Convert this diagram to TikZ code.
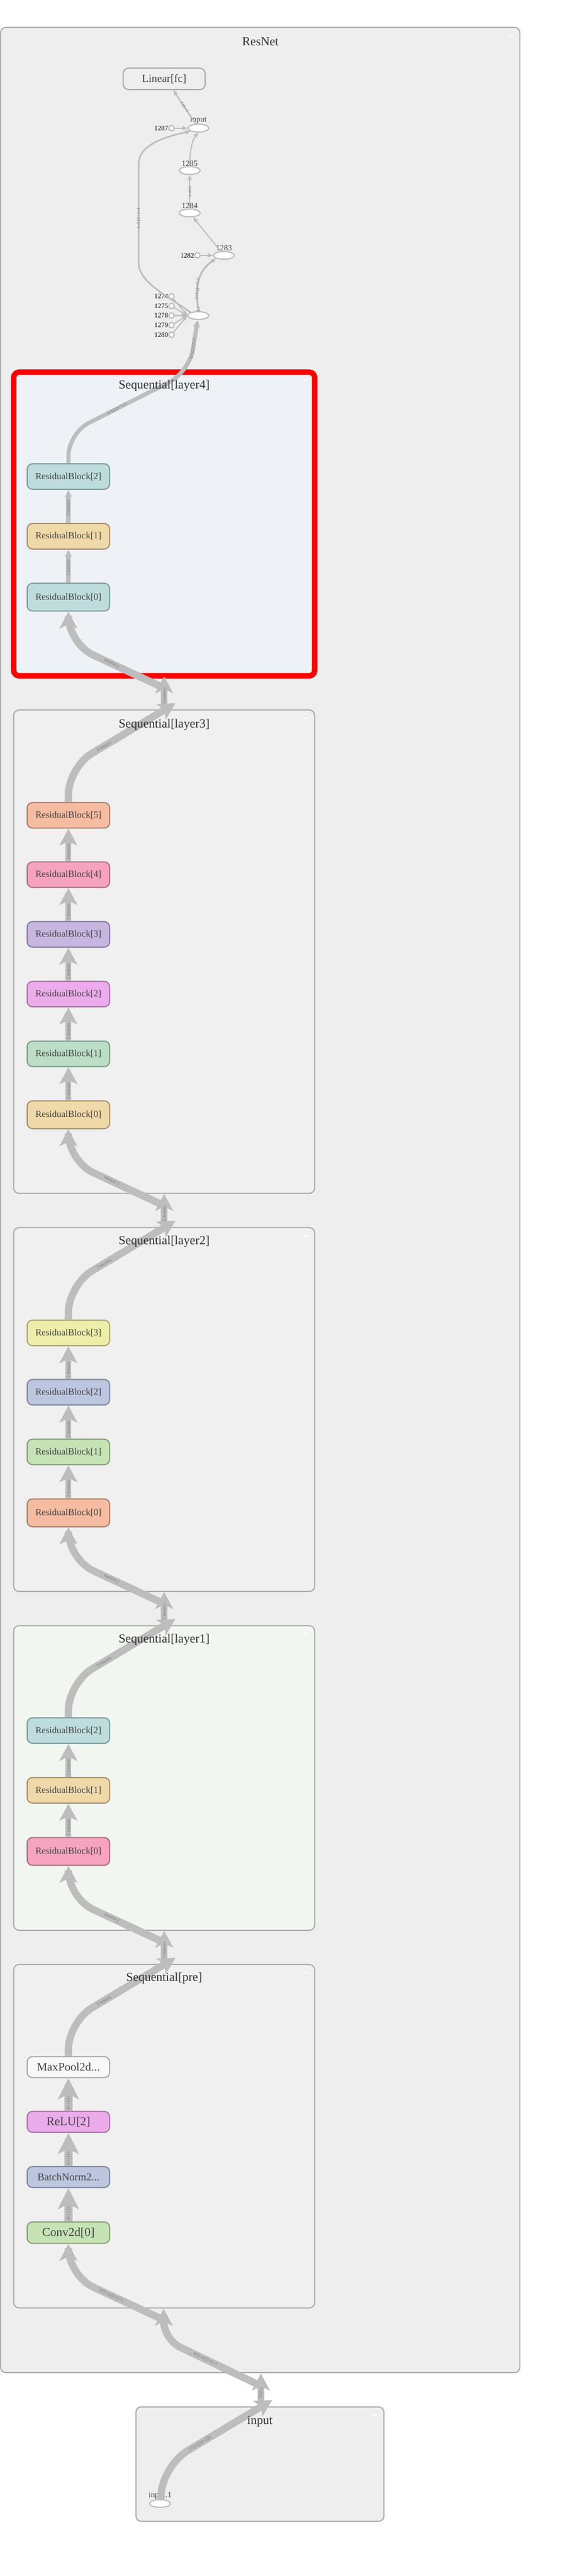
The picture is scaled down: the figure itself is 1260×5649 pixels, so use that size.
\documentclass[tikz,border=0pt]{standalone}
\usepackage{fontspec}
\setmainfont{Liberation Serif}
\usepackage{tikz}
\usetikzlibrary{arrows.meta,positioning,shapes.geometric}
\usepackage{xcolor}

\definecolor{bgfill}{HTML}{EEEEEE}
\definecolor{clfill}{HTML}{F0F0F0}
\definecolor{clline}{HTML}{AAAAAA}
\definecolor{l4fill}{HTML}{EEF2F6}
\definecolor{l1fill}{HTML}{F2F6F0}
\definecolor{edgec}{HTML}{BDBDBD}
\definecolor{opline}{HTML}{BBBBBB}
\definecolor{txt}{HTML}{444444}
\definecolor{titc}{HTML}{333333}
\definecolor{labc}{HTML}{777777}
\definecolor{tealF}{HTML}{BEDCDC}\definecolor{tealD}{HTML}{7F9B9B}
\definecolor{tanF}{HTML}{F0D9A9}\definecolor{tanD}{HTML}{A8916E}
\definecolor{salmonF}{HTML}{F5BCA1}\definecolor{salmonD}{HTML}{A87F6E}
\definecolor{pinkF}{HTML}{F5A3BF}\definecolor{pinkD}{HTML}{A87083}
\definecolor{lavF}{HTML}{C6B6E0}\definecolor{lavD}{HTML}{877DA0}
\definecolor{orchidF}{HTML}{ECABEB}\definecolor{orchidD}{HTML}{A878A8}
\definecolor{mintF}{HTML}{BCDEC6}\definecolor{mintD}{HTML}{809A88}
\definecolor{yellowF}{HTML}{EEEEAB}\definecolor{yellowD}{HTML}{A8A872}
\definecolor{slateF}{HTML}{BCC6DE}\definecolor{slateD}{HTML}{808A9C}
\definecolor{greenF}{HTML}{C6E3B6}\definecolor{greenD}{HTML}{889E78}
\definecolor{plainF}{HTML}{F8F8F8}\definecolor{plainD}{HTML}{AAAAAA}

\begin{document}
\begin{tikzpicture}[x=1pt,y=-1pt,
  cluster/.style={draw=clline, fill=clfill, line width=2.5pt, rounded corners=12pt},
  cltitle/.style={text=titc, inner sep=0pt, font=\fontsize{27}{30}\selectfont},
  block/.style={draw, rounded corners=12pt, line width=2.5pt, minimum width=181pt, minimum height=56pt, inner sep=0pt, text=txt, font=\fontsize{20.5}{24}\selectfont},
  tall/.style={minimum height=61pt},
  prebox/.style={block, minimum height=46pt},
  rbTeal/.style={block, fill=tealF, draw=tealD},
  rbTan/.style={block, fill=tanF, draw=tanD},
  rbSalmon/.style={block, fill=salmonF, draw=salmonD},
  rbPink/.style={block, fill=pinkF, draw=pinkD},
  rbLav/.style={block, fill=lavF, draw=lavD},
  rbOrchid/.style={block, fill=orchidF, draw=orchidD},
  rbMint/.style={block, fill=mintF, draw=mintD},
  rbYellow/.style={block, fill=yellowF, draw=yellowD},
  rbSlate/.style={block, fill=slateF, draw=slateD},
  rbGreen/.style={block, fill=greenF, draw=greenD},
  opnode/.style={ellipse, draw=opline, fill=white, line width=2.5pt, minimum width=46pt, minimum height=17pt, inner sep=0pt, label distance=6pt},
  cnode/.style={circle, draw=opline, fill=white, line width=2.5pt, minimum size=12pt, inner sep=0pt, label distance=5pt},
  oplab/.style={text=txt, inner sep=0pt, font=\fontsize{17.5}{19}\selectfont},
  numlab/.style={text=black, inner sep=0pt, font=\fontsize{15}{16}\selectfont},
  wire/.style={draw=edgec, line width=#1},
  elab/.style={text=labc, sloped, allow upside down, inner sep=0pt, font=\fontsize{10}{11}\selectfont},
  bigtip/.style={-{Stealth[length=37pt,width=39pt,inset=9pt]}},
  pretip/.style={-{Stealth[length=46pt,width=46pt,inset=11pt]}},
  smalltip/.style={-{Stealth[length=16pt,width=15pt,inset=4pt]}},
  tinytip/.style={-{Stealth[length=12pt,width=10pt,inset=3pt]}},
  dashbar/.style={draw=white, line width=3pt}
]
\useasboundingbox (0,0) rectangle (1260,5649);

% clusters
\draw[cluster, fill=bgfill] (1.25,60) rectangle (1140,5203);
\draw[dashbar] (1117,78) -- (1127,78);
\draw[cluster, draw=red, line width=12pt, fill=l4fill] (30,816) rectangle (690,1482);
\draw[cluster] (30,1557) rectangle (690,2617);
\draw[cluster] (30,2692) rectangle (690,3490);
\draw[cluster, fill=l1fill] (30,3565) rectangle (690,4233);
\draw[cluster] (30,4308) rectangle (690,5061);
\draw[cluster, fill=bgfill] (298,5278) rectangle (842,5529);
\foreach \t in {833,1575,2710,3583,4326}
  \draw[dashbar] (666,\t) -- (676,\t);
\draw[dashbar] (818,5296) -- (828,5296);

% top of ResNet
\node[block, fill=bgfill, draw=clline, minimum width=180pt, minimum height=47pt, font=\fontsize{24}{28}\selectfont] (fc) at (360,173) {Linear[fc]};
\node[opnode, label={[oplab]above:input}] (inp) at (435,281) {};
\node[opnode, label={[oplab]above:1285}] (n1285) at (416,374) {};
\node[opnode, label={[oplab]above:1284}] (n1284) at (416,467) {};
\node[opnode, label={[oplab]above:1283}] (n1283) at (491,560) {};
\node[opnode, label={[oplab]above:x}] (opx) at (435,692) {};
\node[cnode, label={[numlab]left:1287}] (c1287) at (376,281) {};
\node[cnode, label={[numlab]left:1282}] (c1282) at (433,560) {};
\node[cnode, label={[numlab]left:1274}] (c1274) at (376,650) {};
\node[cnode, label={[numlab]left:1275}] (c1275) at (376,671) {};
\node[cnode, label={[numlab]left:1278}] (c1278) at (376,692) {};
\node[cnode, label={[numlab]left:1279}] (c1279) at (376,713) {};
\node[cnode, label={[numlab]left:1280}] (c1280) at (376,734) {};

% layer4
\node[rbTeal] (l4b2) at (150,1045) {ResidualBlock[2]};
\node[rbTan] (l4b1) at (150,1176) {ResidualBlock[1]};
\node[rbTeal, tall] (l4b0) at (150,1309.5) {ResidualBlock[0]};
% layer3
\node[rbSalmon] (l3b5) at (150,1788) {ResidualBlock[5]};
\node[rbPink] (l3b4) at (150,1918) {ResidualBlock[4]};
\node[rbLav] (l3b3) at (150,2049) {ResidualBlock[3]};
\node[rbOrchid] (l3b2) at (150,2180) {ResidualBlock[2]};
\node[rbMint] (l3b1) at (150,2311) {ResidualBlock[1]};
\node[rbTan, tall] (l3b0) at (150,2444.5) {ResidualBlock[0]};
% layer2
\node[rbYellow] (l2b3) at (150,2923) {ResidualBlock[3]};
\node[rbSlate] (l2b2) at (150,3053) {ResidualBlock[2]};
\node[rbGreen] (l2b1) at (150,3184) {ResidualBlock[1]};
\node[rbSalmon, tall] (l2b0) at (150,3317.5) {ResidualBlock[0]};
% layer1
\node[rbTeal] (l1b2) at (150,3795) {ResidualBlock[2]};
\node[rbTan] (l1b1) at (150,3926) {ResidualBlock[1]};
\node[rbPink, tall] (l1b0) at (150,4060) {ResidualBlock[0]};
% pre
\node[prebox, fill=plainF, draw=plainD, font=\fontsize{25.5}{28}\selectfont] (mpool) at (150,4533) {MaxPool2d...};
\node[prebox, fill=orchidF, draw=orchidD, font=\fontsize{26.5}{28}\selectfont] (relu) at (150,4653) {ReLU[2]};
\node[prebox, fill=slateF, draw=slateD, font=\fontsize{23}{26}\selectfont] (bnorm) at (150,4774) {BatchNorm2...};
\node[prebox, fill=greenF, draw=greenD, minimum height=47pt, font=\fontsize{26.5}{28}\selectfont] (conv) at (150,4896) {Conv2d[0]};
% input
\node[opnode, label={[oplab, font=\fontsize{18}{20}\selectfont]above:input.1}] (in1) at (351,5490) {};

% top edges
\draw[wire=3pt, tinytip] (inp) -- node[elab]{1×512} ([xshift=20pt]fc.south);
\draw[wire=2.5pt, tinytip] (c1287) -- (inp);
\draw[wire=2.5pt, tinytip] (n1285.north) .. controls (416,330) and (422,305) .. (inp.south);
\draw[wire=2.5pt, tinytip] (n1284) -- node[elab]{scalar} (n1285);
\draw[wire=2.5pt, tinytip] (n1283) -- (n1284);
\draw[wire=2.5pt, tinytip] (c1282) -- (n1283);
\draw[wire=4pt, tinytip] (opx.north) .. controls (428,630) and (432,595) .. node[elab, pos=0.35]{1×512×7×7} (n1283.south west);
\draw[wire=3.5pt, tinytip] (opx.north west) .. controls (370,650) and (304,620) .. (304,576)
  -- node[elab, pos=0.45]{1×512×1×1} (304,360) .. controls (304,318) and (360,300) .. (inp.south west);
\foreach \c in {c1274,c1275,c1278,c1279,c1280}
  \draw[wire=2.5pt, tinytip] (\c) -- (opx.west);
\draw[wire=9pt, smalltip] (l4b2) [rounded corners=50pt] -- (150,950)
  -- node[elab, pos=0.4]{1×512×7×7} (415,816) [sharp corners] -- node[elab, pos=0.45]{1×512×7×7} (opx);

% edges inside the layers
\foreach \a/\b in {l4b0/l4b1,l4b1/l4b2}
  \draw[wire=10pt, smalltip] (\a) -- node[elab, pos=0.45]{2 tensors} (\b);
\foreach \a/\b in {l3b0/l3b1,l3b1/l3b2,l3b2/l3b3,l3b3/l3b4,l3b4/l3b5,l2b0/l2b1,l2b1/l2b2,l2b2/l2b3,l1b0/l1b1,l1b1/l1b2}
  \draw[wire=12pt, bigtip] (\a) -- node[elab, pos=0.28]{2 tensors} (\b);
\foreach \a/\b in {conv/bnorm,bnorm/relu,relu/mpool}
  \draw[wire=18pt, pretip] (\a) -- node[elab, pos=0.24]{4×112×} (\b);

% edges between the layers
\foreach \up/\lo/\B/\T in {l4b0/l3b5/1482/1557,l3b0/l2b3/2617/2692,l2b0/l1b2/3490/3565,l1b0/mpool/4233/4308}{
  \coordinate (s\lo) at (360,{\T-12});
  \coordinate (t\lo) at (360,{\B+1});
  \coordinate (h\lo) at (385,{\T-15});
  \coordinate (c\lo) at (360,{\B+27});
  \draw[wire=15pt, bigtip] (s\lo) -- node[elab, pos=0.3]{2 tensors} (t\lo);
  \draw[wire=16pt, bigtip, rounded corners=60pt] (\lo) -- (150,{\T+126}) -- node[elab, pos=0.33]{2 tensors} (h\lo);
  \draw[wire=16pt, bigtip, rounded corners=60pt] (c\lo) -- node[elab, pos=0.55]{2 tensors} (150,{\B-71}) -- (\up);
}

% from input into pre
\coordinate (cpre) at (360,5088);
\coordinate (dstart) at (572,5232);
\coordinate (dend) at (359,5063);
\coordinate (sin) at (572,5275);
\coordinate (tin) at (572,5205);
\coordinate (hin) at (597,5263);
\draw[wire=16pt, bigtip, rounded corners=60pt] (cpre) -- node[elab, pos=0.55]{1×3×224×224} (150,4990) -- (conv);
\draw[wire=15pt, bigtip] (sin) -- node[elab, pos=0.4]{224×2} (tin);
\draw[wire=16pt, bigtip, rounded corners=40pt] (dstart) -- node[elab, pos=0.57]{1×3×224×224} (359,5130) -- (dend);
\draw[wire=16pt, bigtip, rounded corners=60pt] (in1) -- (360,5405) -- node[elab, pos=0.33]{1×3×224×224} (hin);

% titles
\node[cltitle] (resnet) at (571,91) {ResNet};
\node[cltitle] (l4title) at (360,846) {Sequential[layer4]};
\node[cltitle] (l3title) at (360,1589) {Sequential[layer3]};
\node[cltitle] (l2title) at (360,2723) {Sequential[layer2]};
\node[cltitle] (l1title) at (360,3596) {Sequential[layer1]};
\node[cltitle] (pretitle) at (360,4338) {Sequential[pre]};
\node[cltitle] (intitle) at (570,5310) {input};
\end{tikzpicture}
\end{document}
